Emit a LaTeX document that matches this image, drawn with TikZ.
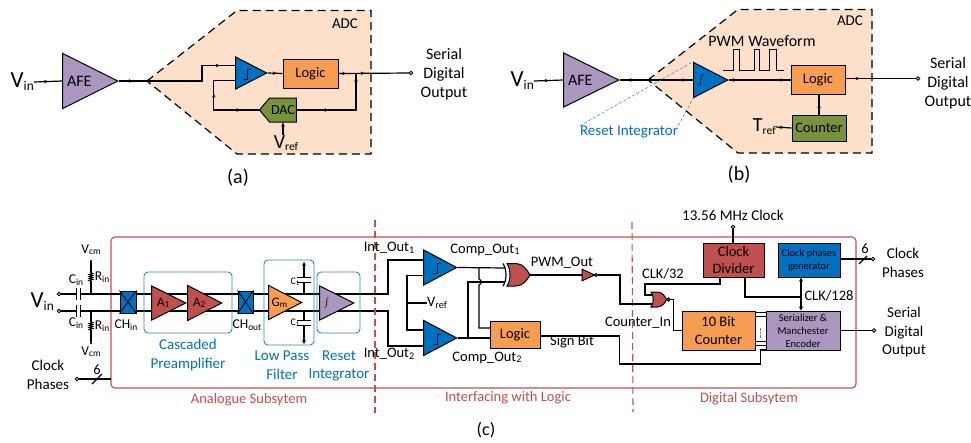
\documentclass[tikz,border=0pt]{standalone}
\usepackage{fontspec}
\setmainfont{Carlito}
\usetikzlibrary{calc,arrows.meta,backgrounds,shapes.geometric,shapes.symbols,shapes.gates.logic.US,decorations.markings,decorations.pathmorphing}
\definecolor{peach}{HTML}{FCE0C9}
\definecolor{ampviolet}{HTML}{AA96BF}
\definecolor{cmpblue}{HTML}{0070C0}
\definecolor{lgcorange}{HTML}{F79D52}
\definecolor{dacgreen}{HTML}{77933C}
\definecolor{subred}{HTML}{C0504D}
\definecolor{grpblue}{HTML}{2E86C8}
\newcommand{\vsub}[3]{{\fontsize{#1}{#1}\selectfont #2\raisebox{-.14em}{\scalebox{.58}{#3}}}}
\newcommand{\lsub}[2]{#1\raisebox{-.1em}{\scalebox{.7}{#2}}}
\newcommand{\stepmark}[1]{\draw[line width=1pt] ($(#1.apex)+(-25,6)$) -- ++(4,0) -- ++(0,-10) -- ++(4,0);}
\newcommand{\capv}[1]{\draw[line width=1pt] (#1.north west) -- (#1.south west) (#1.north east) -- (#1.south east);}
\newcommand{\caph}[1]{\draw[line width=1pt] (#1.north west) -- (#1.north east) (#1.south west) -- (#1.south east);}
\tikzset{
    amp/.style={isosceles triangle, isosceles triangle stretches, draw, line width=1pt, inner sep=0pt, anchor=apex},
    blockbox/.style={draw, line width=1pt, inner sep=0pt, align=center},
    lbl/.style={font=\fontsize{15}{18.5}\selectfont, align=center, inner sep=0pt},
    biglbl/.style={font=\fontsize{16}{18.8}\selectfont, align=center, inner sep=0pt},
    slbl/.style={font=\fontsize{14.5}{17.5}\selectfont, align=center, inner sep=0pt},
    tinylbl/.style={font=\fontsize{13.5}{15}\selectfont, align=center, inner sep=0pt},
    caplbl/.style={font=\fontsize{20}{20}\selectfont, inner sep=0pt},
    term/.style={circle, draw, fill=white, line width=.9pt, inner sep=0pt, minimum size=3.5pt},
    dotn/.style={circle, fill=black, inner sep=0pt, minimum size=2.5pt},
    grp/.style={draw=grpblue, line width=.9pt, rounded corners=4pt},
    wire/.style={line width=1.2pt},
    marr/.style={postaction={decorate, decoration={markings, mark=at position #1 with {\arrow{Stealth[length=4pt,width=3.5pt]}}}}},
    adcshape/.style={fill=peach, draw=black, line width=1.2pt, dash pattern=on 8pt off 5pt},
    capgap/.style={fill=white, inner sep=0pt},
    gate/.style={draw, line width=1pt, fill=subred, inner sep=0pt},
    redsplit/.style={draw=subred, line width=1.1pt, dash pattern=on 7pt off 4pt},
    sublbl/.style={slbl, text=subred},
    bluelbl/.style={lbl, text=cmpblue}
}
\begin{document}
\begin{tikzpicture}[x=1pt,y=-1pt]
    \useasboundingbox (0,0) rectangle (971,442);

    % (a)
    \coordinate (tipa) at (147,81);
    \node[lbl, anchor=east](vina) at (34,82) {\vsub{23}{V}{in}};
    \node[amp, fill=ampviolet, minimum width=55pt, minimum height=55pt, font=\fontsize{16}{16}\selectfont](afea) at (119,81) {AFE\hspace*{6pt}};
    \node[amp, fill=cmpblue, minimum width=32pt, minimum height=31pt](cmpa) at (268,73) {};
    \node[blockbox, fill=lgcorange, minimum width=55pt, minimum height=29pt, font=\fontsize{14.5}{14.5}\selectfont](lgca) at (310.5,73.5) {Logic};
    \node[signal, signal to=west, signal pointer angle=100, blockbox, fill=dacgreen, minimum width=37pt, minimum height=24pt, font=\fontsize{14}{14}\selectfont](daca) at (283,110) {DAC};
    \node[term](outa) at (411,73) {};
    \coordinate (jna) at (356,73);
    \node[lbl](adca) at (345,24) {ADC};
    \node[biglbl](serala) at (444,74) {Serial\\Digital\\Output};
    \node[lbl, anchor=north](vrefa) at (286,135) {\vsub{20}{V}{ref}};
    \node[caplbl](capa) at (238,178) {(a)};

    % (b)
    \coordinate (tipb) at (648,80);
    \node[lbl, anchor=east](vinb) at (534,81) {\vsub{23}{V}{in}};
    \node[amp, fill=ampviolet, minimum width=54pt, minimum height=55pt, font=\fontsize{16}{16}\selectfont](afeb) at (620,80) {AFE\hspace*{6pt}};
    \node[amp, fill=cmpblue, minimum width=35pt, minimum height=34pt, font=\fontsize{14}{14}\selectfont](intb) at (729,80) {$\int$\hspace*{4pt}};
    \node[blockbox, fill=lgcorange, minimum width=54pt, minimum height=29pt, font=\fontsize{14.5}{14.5}\selectfont](lgcb) at (818,80) {Logic};
    \node[blockbox, fill=dacgreen, minimum width=54pt, minimum height=26pt, font=\fontsize{14.5}{14.5}\selectfont](cntb) at (819,128) {Counter};
    \node[term](outb) at (918,78.5) {};
    \node[lbl](adcb) at (850,21) {ADC};
    \node[biglbl](pwmb) at (762,41) {PWM Waveform};
    \node[biglbl](seralb) at (948,83) {Serial\\Digital\\Output};
    \node[lbl, anchor=east](trefb) at (776,127) {\vsub{20}{T}{ref}};
    \node[lbl, text=cmpblue](rstb) at (629,132) {Reset Integrator};
    \node[caplbl](capb) at (739,175) {(b)};

    % (c)
    \node[lbl, anchor=east](vinc) at (54,302) {\vsub{23}{V}{in}};
    \node[term](inp) at (59,294) {};
    \node[term](inn) at (59,311) {};
    \node[capgap, minimum width=3.5pt, minimum height=11pt](cinp) at (78.5,294) {};
    \node[capgap, minimum width=3.5pt, minimum height=11pt](cinn) at (78.5,311) {};
    \node[tinylbl](lcinp) at (76,280) {\lsub{C}{in}};
    \node[tinylbl](lcinn) at (76,323) {\lsub{C}{in}};
    \node[tinylbl](lrinp) at (102,277) {\lsub{R}{in}};
    \node[tinylbl](lrinn) at (102,326) {\lsub{R}{in}};
    \node[tinylbl](lvcmp) at (91,250) {\lsub{V}{cm}};
    \node[tinylbl](lvcmn) at (91,352) {\lsub{V}{cm}};
    \node[dotn](dvcmp) at (91,261) {};
    \node[dotn](dvcmn) at (91,343) {};
    \coordinate (rinpa) at (91,273);
    \coordinate (rinpb) at (91,281);
    \coordinate (rinna) at (91,322);
    \coordinate (rinnb) at (91,330);
    \node[blockbox, fill=cmpblue, minimum width=16pt, minimum height=22pt](chin) at (128,302) {};
    \node[blockbox, fill=cmpblue, minimum width=15pt, minimum height=22pt](chout) at (245.5,302) {};
    \node[tinylbl](lchin) at (126,325) {\lsub{CH}{in}};
    \node[tinylbl](lchout) at (247,325) {\lsub{CH}{out}};
    \node[amp, fill=subred, minimum width=34pt, minimum height=34pt, font=\fontsize{13}{13}\selectfont](aone) at (187,303) {\lsub{A}{1}\hspace*{-5pt}};
    \node[amp, fill=subred, minimum width=35pt, minimum height=34pt, font=\fontsize{13}{13}\selectfont](atwo) at (223,303) {\lsub{A}{2}\hspace*{-5pt}};
    \node[amp, fill=lgcorange, minimum width=34pt, minimum height=33pt, font=\fontsize{13}{13}\selectfont](gm) at (303,302.5) {\lsub{G}{m}\hspace*{-1pt}};
    \node[amp, fill=ampviolet, minimum width=34pt, minimum height=34pt, font=\fontsize{14}{14}\selectfont](intc) at (355,303) {$\int$\hspace*{4pt}};
    \node[capgap, minimum width=13pt, minimum height=4pt](cfp) at (304,280) {};
    \node[capgap, minimum width=13pt, minimum height=4pt](cfn) at (304,323) {};
    \coordinate (gndp) at (304,262);
    \coordinate (gndn) at (304,344);
    \node[lbl, font=\fontsize{10}{10}\selectfont](lcfp) at (295,282) {\lsub{C}{1}};
    \node[lbl, font=\fontsize{10}{10}\selectfont](lcfn) at (295,323) {\lsub{C}{1}};
    \node[bluelbl](lcasc) at (188,355) {Cascaded\\Preamplifier};
    \node[bluelbl](llpf) at (282,365) {Low Pass\\Filter};
    \node[bluelbl](lrst) at (339,366) {Reset\\Integrator};
    \node[lbl](lclkl) at (48,375) {Clock\\Phases};
    \node[term](inclk) at (77,379) {};
    \coordinate (edgeclk) at (111,379);
    \node[slbl](lsixl) at (97,370) {6};

    \coordinate (intpa) at (388,294);
    \coordinate (intna) at (388,311);
    \node[amp, fill=cmpblue, minimum width=35pt, minimum height=33pt](cmpp) at (458,267.5) {};
    \node[amp, fill=cmpblue, minimum width=35pt, minimum height=33pt](cmpn) at (458,338) {};
    \node[slbl](lintp) at (389,248) {Int\_Out\lsub{}{1}};
    \node[slbl](lintn) at (389,354) {Int\_Out\lsub{}{2}};
    \node[slbl](lcmpp) at (485,250) {Comp\_Out\lsub{}{1}};
    \node[slbl](lcmpn) at (487,358) {Comp\_Out\lsub{}{2}};
    \node[slbl, anchor=west](lvref) at (427,303) {\lsub{V}{ref}};
    \coordinate (vrefj) at (407,303);
    \coordinate (xorina) at (505,268);
    \coordinate (xorinb) at (505,282);
    \coordinate (xorout) at (530,275);
    \coordinate (branchn) at (468,338);
    \coordinate (branchp) at (479,267.5);
    \coordinate (hopa) at (479,279);
    \coordinate (hopb) at (479,285);
    \node[not gate US, gate, minimum height=10pt, minimum width=11pt, logic gate inverted radius=1.5pt, anchor=output](notg) at (598,275) {};
    \node[slbl](lpwm) at (562,263) {PWM\_Out};
    \node[blockbox, fill=lgcorange, minimum width=50pt, minimum height=27pt, font=\fontsize{14.5}{14.5}\selectfont](lgcc) at (515,334.5) {Logic};
    \node[slbl](lsign) at (572,342) {Sign Bit};
    \node[sublbl](lana) at (249,400) {Analogue Subsytem};
    \node[sublbl](lifc) at (508,398) {Interfacing with Logic};
    \node[sublbl](ldig) at (749,399) {Digital Subsytem};
    \node[caplbl, font=\fontsize{18}{18}\selectfont](capc) at (486,430) {(c)};

    \node[blockbox, fill=subred, minimum width=61pt, minimum height=34pt, font=\fontsize{14.5}{17.5}\selectfont](clkdiv) at (733.5,260) {Clock\\Divider};
    \node[blockbox, fill=cmpblue, minimum width=62pt, minimum height=34pt, font=\fontsize{10.5}{13}\selectfont](clkgen) at (809,260) {Clock phases\\generator};
    \node[blockbox, fill=lgcorange, minimum width=73pt, minimum height=39pt, font=\fontsize{14.5}{18}\selectfont](ctr) at (718.5,330.5) {10 Bit\\Counter};
    \node[blockbox, fill=ampviolet, minimum width=74pt, minimum height=39pt, font=\fontsize{10.5}{13}\selectfont](ser) at (803,330.5) {Serializer \&\\Manchester\\Encoder};
    \coordinate (norina) at (653,295);
    \coordinate (norinb) at (652,304);
    \node[circle, gate, minimum size=3.5pt](norbub) at (668.5,299.5) {};
    \node[term](inmhz) at (733,227) {};
    \node[lbl](lmhz) at (733,215) {13.56 MHz Clock};
    \node[slbl](lclk32) at (663,274) {CLK/32};
    \node[slbl](lclk128) at (829,296) {CLK/128};
    \node[slbl](lcntin) at (638,323) {Counter\_In};
    \node[term](outclk) at (873,259) {};
    \node[slbl](lsixr) at (865,249) {6};
    \node[lbl](lclkr) at (903,263) {Clock\\Phases};
    \node[term](outser) at (874,330.5) {};
    \node[lbl](lserc) at (904,332) {Serial\\Digital\\Output};
    \coordinate (clkj) at (801,297);
    \coordinate (splittopa) at (375,220);
    \coordinate (splitbota) at (375,413);
    \coordinate (splittopb) at (632,222);
    \coordinate (splitbotb) at (633,412);

    \begin{pgfonlayer}{background}
        \path[adcshape] (tipa) -- (237,10.5) -- (371,10.5) -- (371,154) -- (237,154) -- cycle;
        \path[adcshape] (tipb) -- (738,9.5) -- (872,9.5) -- (872,153) -- (738,153) -- cycle;
        \draw[draw=subred, line width=1.1pt, rounded corners=4pt] (111,237) rectangle (856,388);
        \draw[wire, marr=.5] (vina.east) -- (afea.lower side);
        \draw[wire, marr=.5] (afea.apex) -- (tipa);
        \draw[wire, marr=.85] (tipa) -- ++(55,0) |- ([yshift=7.5pt]cmpa.lower side);
        \draw[wire, marr=.6] (cmpa.apex) -- (lgca.west);
        \draw[wire, marr=.11, marr=.37] (lgca.east) -- (outa);
        \draw[wire, marr=.12, marr=.74] (jna) |- (daca.east);
        \draw[wire, marr=.26, marr=.64] (daca.west) -- ++(-45,0) |- ([yshift=-7.5pt]cmpa.lower side);
        \draw[wire, -{Stealth[length=4pt,width=3.5pt]}] (vrefa.north -| daca.south) -- (daca.south);
        \draw[wire, marr=.5] (vinb.east) -- (afeb.lower side);
        \draw[wire, marr=.5] (afeb.apex) -- (tipb);
        \draw[wire, marr=.85] (tipb) -- (intb.lower side);
        \draw[wire, marr=.13, marr=.9] (intb.apex) -- (lgcb.west);
        \draw[wire, marr=.2] ([yshift=1.5pt]lgcb.east) -- (outb);
        \draw[wire, marr=.55] (cntb.north) -- (cntb.north |- lgcb.south);
        \draw[wire, marr=.5] (trefb.east) -- (cntb.west);
        \draw[wire] (inp) -- (intpa) |- ([yshift=7.5pt]cmpp.lower side);
        \draw[wire] (inn) -- (intna) |- ([yshift=-8pt]cmpn.lower side);
        \draw[wire] (dvcmp) -- (rinpa);
        \draw[wire, decorate, decoration={zigzag, amplitude=1.5pt, segment length=2pt}] (rinpa) -- (rinpb);
        \draw[wire] (rinpb) -- (inp -| rinpb);
        \draw[wire] (dvcmn) -- (rinnb);
        \draw[wire, decorate, decoration={zigzag, amplitude=1.5pt, segment length=2pt}] (rinnb) -- (rinna);
        \draw[wire] (rinna) -- (inn -| rinna);
        \draw[wire, -{Stealth[length=4pt,width=4pt]}] (inp -| gndp) -- (gndp);
        \draw[wire, -{Stealth[length=4pt,width=4pt]}] (inn -| gndn) -- (gndn);
        \draw[wire] (inclk) -- (edgeclk);
        \draw[wire] ($(lsixl.center)+(-5,14)$) -- ++(10,-10);
        \draw[redsplit] (splittopa) -- (splitbota);
        \draw[redsplit] (splittopb) -- (splitbotb);
        \draw[wire] ([yshift=-8pt]cmpp.lower side) -| ([yshift=8pt]cmpn.lower side -| vrefj) -- ([yshift=8pt]cmpn.lower side);
        \draw[wire] (vrefj) -- (lvref.west);
        \draw[wire] (cmpp.apex) -- (xorina);
        \draw[wire] (cmpn.apex) -- (cmpn.apex -| lgcc.west);
        \draw[wire] (branchn) |- (xorinb);
        \draw[wire] (branchp) -- (hopa) .. controls +(3,1) and +(3,-1) .. (hopb) -- ++(0,43) -- ++(11,0);
        \draw[wire] (xorout) -- (notg.input);
        \draw[wire] (notg.output) -- ++(22,0) |- (norinb);
        \draw[wire] ([yshift=-1.5pt]lgcc.east) -- ++(79,0) -- ++(0,28) -- ++(141,0) -- ++(0,-14) -- ++(6,0);
        \draw[wire] (norina) -- ++(-8,0) -- ++(0,-11) -| ([xshift=-13.5pt]clkdiv.south);
        \draw[wire] (norbub.east) -- ++(3,0) |- (ctr.west);
        \draw[wire] (inmhz) -- (clkdiv.north -| inmhz);
        \draw[wire] ([xshift=11.5pt]clkdiv.south) |- (clkj);
        \draw[wire, {Stealth[length=4pt,width=4pt]}-{Stealth[length=4pt,width=4pt]}] (clkj |- clkgen.south) -- (clkj |- ser.north);
        \draw[wire] (clkgen.east |- outclk) -- (outclk);
        \draw[wire] ($(lsixr.center)+(-6,15)$) -- ++(8,-8);
        \draw[wire] (ser.east) -- (outser);
        \foreach \dy in {18,14,-11,-15} {
            \draw[wire] ([yshift=\dy pt]ctr.east) -- ([yshift=\dy pt]ctr.east -| ser.west);
        }
        \draw[densely dotted, gray] ($(ctr.east)!.5!(ser.west)$) ++(0,-3) -- ++(0,10);
    \end{pgfonlayer}

    \stepmark{cmpa}
    \stepmark{cmpp}
    \stepmark{cmpn}
    \capv{cinp}
    \capv{cinn}
    \caph{cfp}
    \caph{cfn}
    \draw[grp] (144,272) rectangle (232,333);
    \draw[grp] (264,260) rectangle (314,345);
    \draw[grp] (317,272) rectangle (360,333);
    \draw[line width=.9pt] (chin.north west) -- (chin.south east) (chin.north east) -- (chin.south west);
    \draw[line width=.9pt] (chout.north west) -- (chout.south east) (chout.north east) -- (chout.south west);

    \draw[gate] (507,263.5) -- (516,263.5) .. controls (523,263.5) and (527,270) .. (xorout) .. controls (527,280) and (523,286) .. (516,286) -- (507,286) .. controls (511,280) and (511,270) .. (507,263.5) -- cycle;
    \draw[wire] (503,263.5) .. controls (507,270) and (507,280) .. (503,286);
    \draw[gate] (651,292) -- (657,292) .. controls (662,292) and (665,296) .. (666.5,299.5) .. controls (665,303) and (662,307) .. (657,307) -- (651,307) .. controls (654,303) and (654,296) .. (651,292) -- cycle;

    \draw[thin, densely dashed, cmpblue] (rstb.north west) -- (intb.left corner);
    \draw[thin, densely dashed, cmpblue] (rstb.north east) -- (intb.right corner);
    \draw[line width=.8pt] (723,70) -- (733,70) -- (733,49) -- (739,49) -- (739,70) -- (754,70) -- (754,49) -- (759,49) -- (759,70) -- (769,70) -- (769,49) -- (776,49) -- (776,70) -- (784,70);
\end{tikzpicture}
\end{document}
